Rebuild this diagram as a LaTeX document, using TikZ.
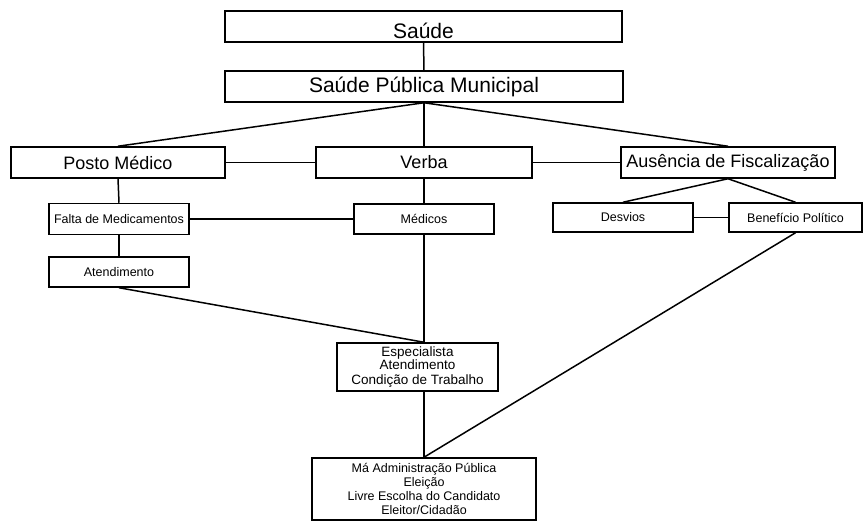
\documentclass[tikz,border=0pt]{standalone}
\usepackage{fontspec}
\setmainfont{Liberation Sans}

\begin{document}
\begin{tikzpicture}[x=1pt,y=-1pt,line width=1.5pt,
  bloco/.style={draw,rectangle,inner sep=0pt,minimum height=31pt},
  grande/.style={bloco,font=\fontsize{21}{24}\selectfont},
  medio/.style={bloco,font=\fontsize{18}{21}\selectfont},
  pequeno/.style={bloco,font=\fontsize{12.5}{14}\selectfont,minimum width=140pt,minimum height=30pt}]
\useasboundingbox (0,0) rectangle (863,521);
\node[grande,minimum width=397pt,text height=24pt] (saude) at (423.5,26.5) {Saúde};
\node[grande,minimum width=398pt] (spm) at (424,86.5) {Saúde Pública Municipal};
\node[medio,minimum width=214pt] (posto) at (118,162.5) {Posto Médico};
\node[medio,minimum width=216pt] (verba) at (424,162.5) {Verba};
\node[medio,minimum width=214pt] (ausencia) at (728,162.5) {Ausência de Fiscalização};
\node[pequeno,minimum height=31pt] (falta) at (119,219) {Falta de Medicamentos};
\node[pequeno] (atend) at (119,272) {Atendimento};
\node[pequeno] (medicos) at (424,219) {Médicos};
\node[pequeno,minimum height=29pt] (desvios) at (623,217.5) {Desvios};
\node[pequeno,minimum width=133pt,minimum height=29pt] (beneficio) at (795.5,217.5) {Benefício Político};
\node[bloco,font=\fontsize{13.5}{12}\selectfont,align=center,minimum width=161pt,minimum height=48pt] (espec) at (417.5,367) {Especialista\\Atendimento\\[3pt]Condição de Trabalho};
\node[bloco,font=\fontsize{12.5}{13.7}\selectfont,align=center,minimum width=224pt,minimum height=62pt] (ma) at (424,489) {Má Administração Pública\\Eleição\\Livre Escolha do Candidato\\Eleitor/Cidadão};
\coordinate (junta) at (medicos.south |- espec.north);
% ligacoes
\draw (saude.south) -- (spm.north);
\draw (spm.south) -- (posto.north);
\draw (spm.south) -- (verba.north);
\draw (spm.south) -- (ausencia.north);
\draw (posto.east) -- (verba.west);
\draw (verba.east) -- (ausencia.west);
\draw (posto.south) -- (falta.north);
\draw (falta.south) -- (atend.north);
\draw (falta.east) -- (medicos.west);
\draw (verba.south) -- (medicos.north);
\draw (ausencia.south) -- (desvios.north);
\draw (ausencia.south) -- (beneficio.north);
\draw (desvios.east) -- (beneficio.west);
\draw (medicos.south) -- (junta);
\draw (atend.south) -- (junta);
\draw (ma.north |- espec.south) -- (ma.north);
\draw (beneficio.south) -- (ma.north);
\end{tikzpicture}
\end{document}
